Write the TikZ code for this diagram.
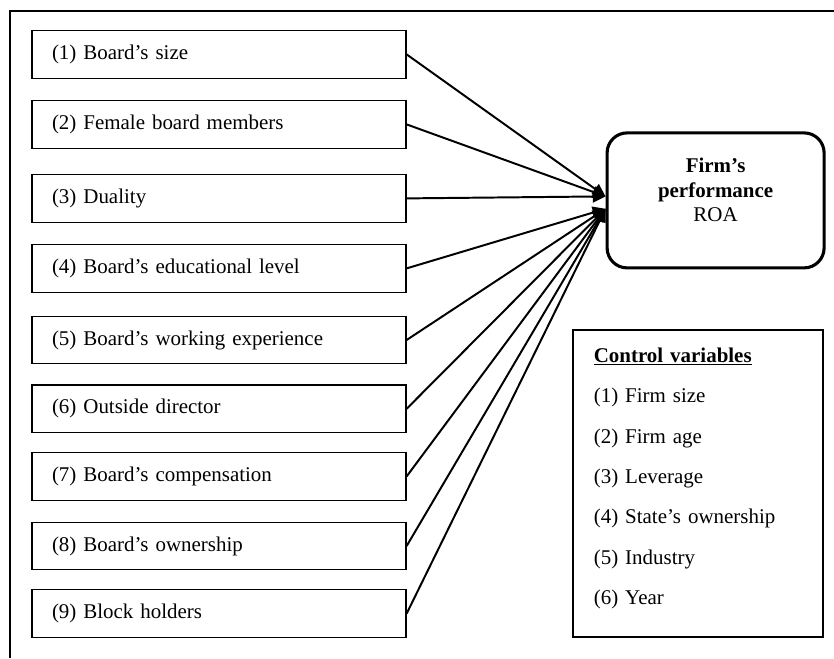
\documentclass[tikz,border=0pt]{standalone}
\usepackage{fontspec}
\setmainfont{Liberation Serif}
\usetikzlibrary{arrows.meta}

\begin{document}
\begin{tikzpicture}[
  x=1cm, y=1cm,
  every node/.style={font=\fontsize{14.9}{17.4}\selectfont},
  var/.style={draw, line width=0.9pt, minimum height=1.19cm,
    text width=8.35cm, inner xsep=0.5cm, align=left},
  % the outcome box and the box of control variables
  perf/.style={draw, line width=2.2pt, rounded corners=0.5cm,
    minimum width=5.425cm, minimum height=3.375cm},
  ctrl/.style={draw, line width=1.3pt, minimum width=6.25cm, minimum height=7.675cm},
  ctrltxt/.style={inner sep=0pt, text width=5.21cm, align=left,
    font=\fontsize{14.9}{28.7}\selectfont},
  frame/.style={draw, line width=1.5pt},
  arrow/.style={draw, line width=1.4pt, -{Triangle[length=0.32cm, width=0.3cm]}}]

  \useasboundingbox (0,0) rectangle (20.85,16.45);
  \draw[frame] (0.25,0) |- (20.85,16.175);

  % board variables
  \node[var] (b1) at (5.475,15.09) {(1) Board’s size};
  \node[var] (b2) at (5.475,13.34) {(2) Female board members};
  \node[var] (b3) at (5.475,11.49) {(3) Duality};
  \node[var] (b4) at (5.475,9.74)  {(4) Board’s educational level};
  \node[var] (b5) at (5.475,7.95)  {(5) Board’s working experience};
  \node[var] (b6) at (5.475,6.23)  {(6) Outside director};
  \node[var] (b7) at (5.475,4.54)  {(7) Board’s compensation};
  \node[var] (b8) at (5.475,2.80)  {(8) Board’s ownership};
  \node[var] (b9) at (5.475,1.11)  {(9) Block holders};

  % outcome
  \node[perf] (roa) at (17.89,11.44) {};
  \node[align=center] (roatxt) at (17.89,11.70) {\textbf{Firm’s}\\\textbf{performance}\\ROA};

  % controls
  \node[ctrl] (ctl) at (17.45,4.36) {};
  \node[ctrltxt] (ctltxt) at (17.45,4.49) {\underline{\textbf{Control variables}}\\
    (1) Firm size\\(2) Firm age\\(3) Leverage\\(4) State’s ownership\\
    (5) Industry\\(6) Year};

  % arrows
  \draw[arrow] (b1.east) -- ([yshift=0.1cm]roa.west);
  \draw[arrow] (b2.east) -- ([yshift=0.1cm]roa.west);
  \draw[arrow] (b3.east) -- ([yshift=0.1cm]roa.west);
  \draw[arrow] (b4.east) -- ([yshift=-0.21cm]roa.west);
  \draw[arrow] (b5.east) -- ([yshift=-0.21cm]roa.west);
  \draw[arrow] (b6.east) -- ([yshift=-0.21cm]roa.west);
  \draw[arrow] (b7.east) -- ([yshift=-0.21cm]roa.west);
  \draw[arrow] (b8.east) -- ([yshift=-0.21cm]roa.west);
  \draw[arrow] (b9.east) -- ([yshift=-0.21cm]roa.west);
\end{tikzpicture}
\end{document}
